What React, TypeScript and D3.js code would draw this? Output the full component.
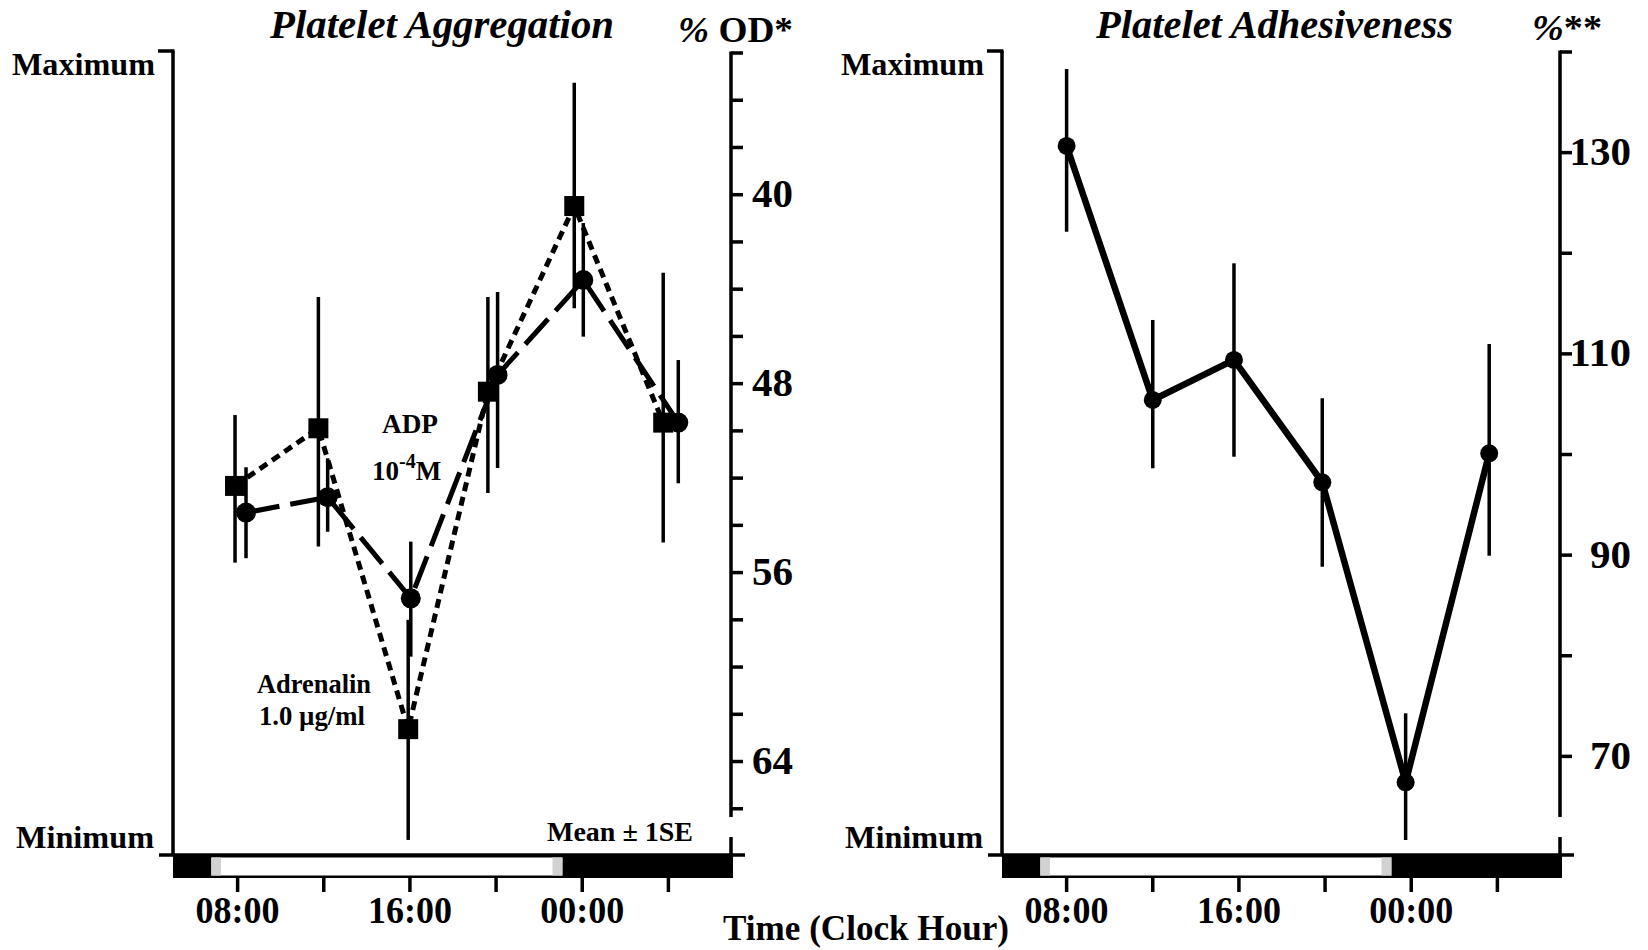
import * as d3 from "d3";
import { useEffect } from "react";

// time axis (clock hours, 24+ means next day)
const hourTicks = [8, 12, 16, 20, 24, 28];
const hourLabelAt = [8, 16, 24];
const hourLabels = ["08:00", "16:00", "00:00"];
const lightsOn = [6.78, 7.23];
const lightsOff = [22.62, 23.08];

// Platelet aggregation, % OD (axis inverted)
const adrHours = [7.88, 11.75, 15.92, 19.62, 23.63, 27.76];
const adrMean = [52.33, 49.89, 62.63, 48.34, 40.48, 49.65];
const adrUpper = [49.33, 44.33, 58.0, 44.33, 35.26, 43.3];
const adrLower = [55.58, 54.9, 67.32, 52.63, 44.81, 54.73];

const adpHours = [8.39, 12.18, 16.04, 20.07, 24.05, 28.46];
const adpMean = [53.46, 52.81, 57.09, 47.63, 43.61, 49.65];
const adpUpper = [51.54, 51.16, 54.69, 44.12, 41.2, 47.0];
const adpLower = [55.39, 54.27, 59.56, 51.57, 46.01, 52.22];

const odTicks = d3.range(34, 67, 2);
const odLabels = [40, 48, 56, 64];

// Platelet adhesiveness, %
const adhHours = [8.0, 12.0, 15.77, 19.87, 23.74, 27.62];
const adhMean = [130.66, 105.42, 109.4, 97.24, 67.42, 100.12];
const adhUpper = [138.3, 113.37, 119.0, 105.59, 74.28, 110.98];
const adhLower = [122.14, 98.63, 99.78, 88.85, 61.69, 89.94];

const adhTicks = [140, 130, 120, 110, 100, 90, 80, 70];
const adhLabels = [130, 110, 90, 70];

const W = 1648;
const H = 950;
const FONT = "'Liberation Serif', 'Times New Roman', serif";
const BASE_Y = 855;
const BREAK_TOP = 817;
const BREAK_BOTTOM = 837;

function TimeBar({ x }: { x: d3.ScaleLinear<number, number> }) {
  const [x0, x1] = x.range();
  return (
    <g>
      <line x1={x0 - 14} x2={x1 + 12} y1={BASE_Y} y2={BASE_Y} stroke="#000" strokeWidth={3.5} />
      <rect x={x0} y={BASE_Y} width={x1 - x0} height={23} fill="#000" />
      <rect x={x(lightsOn[0])} y={BASE_Y + 2.5} width={x(lightsOff[1]) - x(lightsOn[0])} height={18} fill="#fff" />
      <rect x={x(lightsOn[0])} y={BASE_Y + 2.5} width={x(lightsOn[1]) - x(lightsOn[0])} height={18} fill="#d2d2d2" />
      <rect x={x(lightsOff[0])} y={BASE_Y + 2.5} width={x(lightsOff[1]) - x(lightsOff[0])} height={18} fill="#d2d2d2" />
      {hourTicks.map((h) => (
        <line key={h} x1={x(h)} x2={x(h)} y1={BASE_Y + 23} y2={BASE_Y + 37} stroke="#000" strokeWidth={3.5} />
      ))}
      {hourLabelAt.map((h, i) => (
        <text
          key={h}
          x={x(h)}
          y={923}
          textAnchor="middle"
          fontSize={38}
          fontWeight="bold"
          textLength={84}
          lengthAdjust="spacingAndGlyphs"
        >
          {hourLabels[i]}
        </text>
      ))}
    </g>
  );
}

function LeftAxis({ x0, top, dx }: { x0: number; top: number; dx: number }) {
  return (
    <g>
      <line x1={x0} x2={x0} y1={top} y2={BASE_Y} stroke="#000" strokeWidth={3.5} />
      <line x1={x0 - 15} x2={x0 + 1.5} y1={top} y2={top} stroke="#000" strokeWidth={3.5} />
      <text x={155 + dx} y={75} textAnchor="end" fontSize={32} fontWeight="bold" textLength={143} lengthAdjust="spacingAndGlyphs">
        Maximum
      </text>
      <text x={154 + dx} y={848} textAnchor="end" fontSize={32} fontWeight="bold" textLength={138} lengthAdjust="spacingAndGlyphs">
        Minimum
      </text>
    </g>
  );
}

function RightAxis({
  x1,
  y,
  ticks,
  labels,
  labelX,
  anchor,
}: {
  x1: number;
  y: d3.ScaleLinear<number, number>;
  ticks: number[];
  labels: number[];
  labelX: number;
  anchor: "start" | "end";
}) {
  const top = y(ticks[0]);
  return (
    <g>
      <line x1={x1} x2={x1} y1={top - 1.5} y2={BREAK_TOP} stroke="#000" strokeWidth={3.5} />
      <line x1={x1} x2={x1} y1={BREAK_BOTTOM} y2={BASE_Y} stroke="#000" strokeWidth={3.5} />
      {ticks.map((t) => (
        <line key={t} x1={x1} x2={x1 + 12} y1={y(t)} y2={y(t)} stroke="#000" strokeWidth={3.5} />
      ))}
      {labels.map((t) => {
        const s = String(t);
        return (
          <text
            key={t}
            x={labelX}
            y={y(t) + 12.5}
            textAnchor={anchor}
            fontSize={39}
            fontWeight="bold"
            textLength={s.length * 20.5}
            lengthAdjust="spacingAndGlyphs"
          >
            {s}
          </text>
        );
      })}
    </g>
  );
}

function ErrorBars({
  x,
  y,
  hours,
  upper,
  lower,
}: {
  x: d3.ScaleLinear<number, number>;
  y: d3.ScaleLinear<number, number>;
  hours: number[];
  upper: number[];
  lower: number[];
}) {
  return (
    <g>
      {hours.map((h, i) => (
        <line key={i} x1={x(h)} x2={x(h)} y1={y(upper[i])} y2={y(lower[i])} stroke="#000" strokeWidth={3.5} />
      ))}
    </g>
  );
}

export default function App() {
  useEffect(() => {
    document.body.style.margin = "0";
    document.body.style.background = "#fff";
  }, []);

  const xL = d3.scaleLinear().domain([5, 31]).range([173, 733]);
  const xR = d3.scaleLinear().domain([5, 31]).range([1002, 1562]);
  const yOD = d3.scaleLinear().domain([34, 68]).range([53, 856]);
  const yAdh = d3.scaleLinear().domain([60, 140]).range([857, 52]);

  const adrLine = d3.line<number>().x((h) => xL(h)).y((_, i) => yOD(adrMean[i]));
  const adpLine = d3.line<number>().x((h) => xL(h)).y((_, i) => yOD(adpMean[i]));
  const adhLine = d3.line<number>().x((h) => xR(h)).y((_, i) => yAdh(adhMean[i]));

  return (
    <svg
      width={W}
      height={H}
      viewBox={`0 0 ${W} ${H}`}
      style={{ position: "absolute", left: 0, top: 0, background: "#fff" }}
      fontFamily={FONT}
    >
      <rect width={W} height={H} fill="#fff" />

      {/* ---------- left panel: aggregation ---------- */}
      <text x={270} y={38} fontSize={40} fontWeight="bold" fontStyle="italic" textLength={344} lengthAdjust="spacingAndGlyphs">
        Platelet Aggregation
      </text>
      <text x={678} y={42} fontSize={36} fontWeight="bold" textLength={115} lengthAdjust="spacingAndGlyphs">
        <tspan fontStyle="italic">%</tspan> OD*
      </text>

      <LeftAxis x0={173} top={51} dx={0} />
      <RightAxis x1={731} y={yOD} ticks={odTicks} labels={odLabels} labelX={752} anchor="start" />
      <TimeBar x={xL} />

      <ErrorBars x={xL} y={yOD} hours={adrHours} upper={adrUpper} lower={adrLower} />
      <ErrorBars x={xL} y={yOD} hours={adpHours} upper={adpUpper} lower={adpLower} />

      <path d={adpLine(adpHours) ?? ""} fill="none" stroke="#000" strokeWidth={5} strokeDasharray="34 11" />
      <path d={adrLine(adrHours) ?? ""} fill="none" stroke="#000" strokeWidth={5} strokeDasharray="9 6" />

      {adrHours.map((h, i) => (
        <rect key={i} x={xL(h) - 10} y={yOD(adrMean[i]) - 10} width={20} height={20} fill="#000" />
      ))}
      {adpHours.map((h, i) => (
        <circle key={i} cx={xL(h)} cy={yOD(adpMean[i])} r={10} fill="#000" />
      ))}

      <text x={382} y={433} fontSize={27} fontWeight="bold" textLength={56} lengthAdjust="spacingAndGlyphs">
        ADP
      </text>
      <text x={372} y={480} fontSize={27} fontWeight="bold">
        10
        <tspan fontSize={20} dy={-12}>-4</tspan>
        <tspan dy={12}>M</tspan>
      </text>
      <text x={257} y={693} fontSize={27} fontWeight="bold" textLength={114} lengthAdjust="spacingAndGlyphs">
        Adrenalin
      </text>
      <text x={259} y={725} fontSize={27} fontWeight="bold" textLength={106} lengthAdjust="spacingAndGlyphs">
        1.0 µg/ml
      </text>
      <text x={547} y={841} fontSize={28} fontWeight="bold" textLength={146} lengthAdjust="spacingAndGlyphs">
        Mean ± 1SE
      </text>

      <text x={866} y={940} textAnchor="middle" fontSize={36} fontWeight="bold" textLength={286} lengthAdjust="spacingAndGlyphs">
        Time (Clock Hour)
      </text>

      {/* ---------- right panel: adhesiveness ---------- */}
      <text x={1096} y={38} fontSize={40} fontWeight="bold" fontStyle="italic" textLength={357} lengthAdjust="spacingAndGlyphs">
        Platelet Adhesiveness
      </text>
      <text x={1532} y={40} fontSize={36} fontWeight="bold" textLength={70} lengthAdjust="spacingAndGlyphs">
        <tspan fontStyle="italic">%</tspan>**
      </text>

      <LeftAxis x0={1002} top={51} dx={829} />
      <RightAxis x1={1560} y={yAdh} ticks={adhTicks} labels={adhLabels} labelX={1631} anchor="end" />
      <TimeBar x={xR} />

      <ErrorBars x={xR} y={yAdh} hours={adhHours} upper={adhUpper} lower={adhLower} />
      <path d={adhLine(adhHours) ?? ""} fill="none" stroke="#000" strokeWidth={6.5} strokeLinejoin="round" />
      {adhHours.map((h, i) => (
        <circle key={i} cx={xR(h)} cy={yAdh(adhMean[i])} r={9} fill="#000" />
      ))}
    </svg>
  );
}
